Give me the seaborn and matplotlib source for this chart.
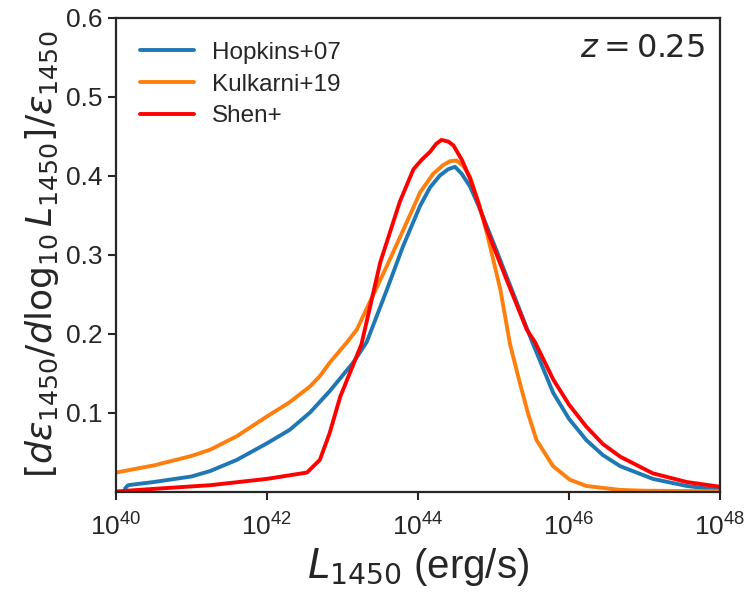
import numpy as np
import pandas as pd
import matplotlib
matplotlib.use("Agg")
import matplotlib.pyplot as plt
import seaborn as sns

# ---- data (log10 L_1450, normalised contribution) ----
hopkins_logL = [40.12, 40.16, 40.5, 41.0, 41.25, 41.6, 42.0, 42.3, 42.57, 42.83, 43.14, 43.32,
                43.59, 43.8, 44.03, 44.16, 44.29, 44.4, 44.49, 44.58, 44.69, 44.8, 44.91, 45.04,
                45.17, 45.51, 45.79, 46.0, 46.23, 46.45, 46.68, 47.11, 47.56, 48.0]
hopkins_val = [0.004, 0.008, 0.012, 0.019, 0.026, 0.040, 0.061, 0.078, 0.100, 0.127, 0.163, 0.189,
               0.256, 0.310, 0.362, 0.385, 0.400, 0.408, 0.411, 0.402, 0.386, 0.362, 0.336, 0.305,
               0.273, 0.190, 0.125, 0.092, 0.065, 0.046, 0.032, 0.016, 0.007, 0.002]

kulkarni_logL = [40.0, 40.5, 41.0, 41.25, 41.6, 42.0, 42.3, 42.57, 42.70, 42.83, 43.06, 43.19,
                 43.59, 43.8, 44.03, 44.2, 44.33, 44.42, 44.51, 44.6, 44.69, 44.8, 44.91, 45.0,
                 45.09, 45.22, 45.35, 45.46, 45.57, 45.79, 46.01, 46.23, 46.68, 47.0, 48.0]
kulkarni_val = [0.024, 0.033, 0.045, 0.053, 0.070, 0.095, 0.113, 0.133, 0.146, 0.163, 0.189, 0.205,
                0.286, 0.330, 0.379, 0.402, 0.413, 0.418, 0.419, 0.412, 0.398, 0.366, 0.328, 0.292,
                0.256, 0.186, 0.137, 0.098, 0.065, 0.032, 0.015, 0.007, 0.002, 0.001, 0.0003]

shen_logL = [40.0, 40.45, 41.25, 42.0, 42.53, 42.70, 42.83, 42.97, 43.25, 43.38, 43.5, 43.76,
             43.94, 44.05, 44.16, 44.24, 44.31, 44.40, 44.47, 44.58, 44.69, 44.8, 44.91, 45.17,
             45.44, 45.55, 45.79, 46.0, 46.23, 46.45, 46.68, 47.11, 47.56, 48.0]
shen_val = [0.0, 0.003, 0.008, 0.016, 0.024, 0.040, 0.074, 0.120, 0.186, 0.240, 0.290, 0.367,
            0.408, 0.420, 0.430, 0.440, 0.445, 0.443, 0.438, 0.420, 0.396, 0.365, 0.332, 0.269,
            0.205, 0.189, 0.142, 0.110, 0.082, 0.060, 0.044, 0.023, 0.012, 0.006]

labels = ["Hopkins+07", "Kulkarni+19", "Shen+"]
colors = ["#1f77b4", "#ff7f0e", "red"]
xtick_exp = [40, 42, 44, 46, 48]
yticks = [0.1, 0.2, 0.3, 0.4, 0.5, 0.6]

frames = []
for lab, lx, v in zip(labels, [hopkins_logL, kulkarni_logL, shen_logL],
                      [hopkins_val, kulkarni_val, shen_val]):
    frames.append(pd.DataFrame({"L": 10.0 ** np.array(lx), "y": v, "model": lab}))
df = pd.concat(frames, ignore_index=True)

sns.set_style("ticks")
plt.rcParams["font.family"] = ["Liberation Sans", "DejaVu Sans"]
plt.rcParams["mathtext.fontset"] = "dejavusans"

fig = plt.figure(figsize=(7.5, 6), dpi=100)
ax = fig.add_axes([116 / 750, 1 - 491.5 / 600, (720 - 116) / 750, (491.5 - 17.5) / 600])

sns.lineplot(data=df, x="L", y="y", hue="model", hue_order=labels,
             palette=dict(zip(labels, colors)), estimator=None, sort=False,
             linewidth=2.8, ax=ax)

ax.set_xscale("log")
ax.set_xlim(1e40, 1e48)
ax.set_ylim(0, 0.6)
ax.set_xticks([10.0 ** e for e in xtick_exp])
ax.xaxis.set_minor_locator(matplotlib.ticker.NullLocator())
ax.set_yticks(yticks)
ax.set_yticklabels([f"{t:.1f}" for t in yticks])
ax.tick_params(axis="both", labelsize=19, length=6, width=1.5, color="#262626")
ax.tick_params(axis="x", pad=10)
for sp in ax.spines.values():
    sp.set_linewidth(1.6)
    sp.set_color("#262626")

ax.set_xlabel(r"$L_{1450}$ (erg/s)", fontsize=29, labelpad=4)
ax.set_ylabel(r"$[d\epsilon_{1450}/d\log_{10}L_{1450}]/\epsilon_{1450}$", fontsize=26)

ax.text(0.975, 0.965, r"$z=0.25$", transform=ax.transAxes, ha="right", va="top",
        fontsize=23, color="#262626")

leg = ax.legend(loc="upper left", frameon=False, fontsize=17.5, handlelength=2.2,
                handletextpad=0.75, labelspacing=0.4, borderaxespad=0.6)

fig.savefig("out.png", dpi=100)
